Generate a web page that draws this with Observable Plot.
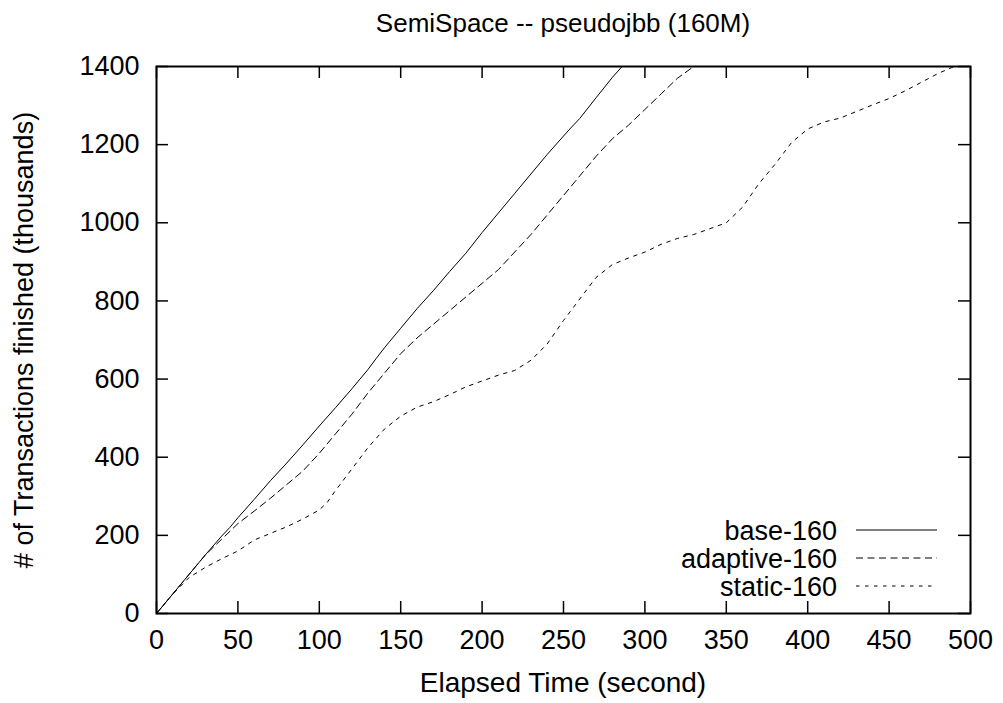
<!DOCTYPE html>
<html>
<head>
<meta charset="utf-8">
<script src="https://cdn.jsdelivr.net/npm/d3@7"></script>
<script src="https://cdn.jsdelivr.net/npm/@observablehq/plot@0.6"></script>
<style>
  html, body { margin: 0; padding: 0; background: #fff; }
  #wrap { position: relative; width: 1003px; height: 703px; font-family: "Liberation Sans", Arial, Helvetica, sans-serif; color: #000; }
  .lbl { position: absolute; font-size: 27px; line-height: 30px; white-space: nowrap; }
</style>
</head>
<body>
<div id="wrap"></div>
<script>
const title = "SemiSpace -- pseudojbb (160M)";
const xLabel = "Elapsed Time (second)";
const yLabel = "# of Transactions finished (thousands)";
const seriesNames = ["base-160", "adaptive-160", "static-160"];
const xTicks = [0, 50, 100, 150, 200, 250, 300, 350, 400, 450, 500];
const yTicks = [0, 200, 400, 600, 800, 1000, 1200, 1400];

const baseData = [[0,0],[10,50],[20,100],[30,150],[40,198],[45,220],[50,245],[60,292],[70,340],[80,385],[90,432],[100,480],[110,527],[120,575],[130,625],[135,653],[140,680],[150,730],[160,780],[170,826],[180,875],[190,922],[200,975],[210,1025],[220,1075],[230,1125],[240,1175],[250,1222],[255,1245],[260,1267],[270,1320],[280,1372],[286,1400]];
const adaptiveData = [[0,0],[10,50],[20,100],[30,150],[40,190],[50,230],[60,262],[70,295],[80,330],[90,365],[100,410],[110,460],[120,510],[130,565],[140,615],[150,665],[160,705],[170,740],[180,775],[190,810],[200,845],[210,880],[220,925],[230,970],[240,1020],[250,1070],[260,1120],[270,1170],[280,1215],[290,1250],[300,1290],[310,1330],[320,1370],[330,1400]];
const staticData = [[0,0],[10,50],[20,92],[30,118],[40,140],[50,160],[60,188],[70,205],[80,222],[90,242],[100,265],[105,285],[110,315],[120,370],[130,425],[140,472],[150,505],[160,528],[170,542],[180,560],[190,580],[200,595],[210,610],[220,622],[230,648],[240,690],[250,750],[260,805],[270,860],[280,893],[290,910],[300,925],[310,945],[320,960],[330,970],[340,985],[350,1000],[360,1040],[370,1100],[380,1150],[390,1205],[400,1240],[410,1258],[420,1268],[430,1285],[440,1302],[450,1318],[460,1338],[470,1360],[480,1382],[490,1400]];

const dashes = [null, "7,4.5", "3.5,5.5"];
const seriesData = [baseData, adaptiveData, staticData];

const W = 1003, H = 703, mT = 66, mB = 90, mL = 156, mR = 33;
const innerH = H - mT - mB, innerW = W - mL - mR, tk = 12;
const font = "'Liberation Sans', Arial, Helvetica, sans-serif";

const lineMarks = seriesData.map((data, i) => Plot.line(data, {
  x: d => d[0], y: d => d[1], stroke: "#000", strokeWidth: 1,
  strokeDasharray: dashes[i] || undefined
}));

const chart = Plot.plot({
  width: W, height: H,
  marginTop: mT, marginBottom: mB, marginLeft: mL, marginRight: mR,
  style: { fontFamily: font, fontSize: "27px", background: "#fff", color: "#000" },
  x: { domain: [0, 500] },
  y: { domain: [0, 1400] },
  marks: [
    Plot.axisX(xTicks, { tickSize: 0, tickPadding: 16, label: null, fontSize: 27, tickFormat: d => String(d) }),
    Plot.axisY(yTicks, { tickSize: 0, tickPadding: 17, label: null, fontSize: 27, tickFormat: d => String(d) }),
    Plot.ruleX(xTicks, { x: d => d, insetTop: innerH - tk, strokeWidth: 1.5 }),
    Plot.ruleX(xTicks, { x: d => d, insetBottom: innerH - tk, strokeWidth: 1.5 }),
    Plot.ruleY(yTicks, { y: d => d, insetRight: innerW - tk, strokeWidth: 1.5 }),
    Plot.ruleY(yTicks, { y: d => d, insetLeft: innerW - tk, strokeWidth: 1.5 }),
    ...lineMarks,
    Plot.frame({ stroke: "#000", strokeWidth: 2 })
  ]
});

const wrap = document.getElementById("wrap");
wrap.appendChild(chart);

function addLabel(text, css) {
  const d = document.createElement("div");
  d.className = "lbl";
  d.textContent = text;
  Object.assign(d.style, css);
  wrap.appendChild(d);
  return d;
}
const cx = mL + innerW / 2;
addLabel(title, { left: cx + "px", top: "8px", transform: "translateX(-50%)", fontSize: "26px" });
addLabel(xLabel, { left: cx + "px", top: "668px", transform: "translateX(-50%)", fontSize: "28px" });
addLabel(yLabel, { left: "24px", top: (mT + innerH / 2) + "px", transform: "translate(-50%,-50%) rotate(-90deg)" });

// legend
const legendY = [530, 558, 586];
const ns = "http://www.w3.org/2000/svg";
const lsvg = document.createElementNS(ns, "svg");
lsvg.setAttribute("width", W); lsvg.setAttribute("height", H);
lsvg.style.position = "absolute"; lsvg.style.left = "0"; lsvg.style.top = "0";
seriesNames.forEach((name, i) => {
  addLabel(name, { right: (W - 837) + "px", top: (legendY[i] - 14) + "px", textAlign: "right" });
  const ln = document.createElementNS(ns, "line");
  ln.setAttribute("x1", 856); ln.setAttribute("x2", 937);
  ln.setAttribute("y1", legendY[i]); ln.setAttribute("y2", legendY[i]);
  ln.setAttribute("stroke", "#000"); ln.setAttribute("stroke-width", 1);
  if (dashes[i]) ln.setAttribute("stroke-dasharray", dashes[i]);
  lsvg.appendChild(ln);
});
wrap.appendChild(lsvg);
</script>
</body>
</html>
